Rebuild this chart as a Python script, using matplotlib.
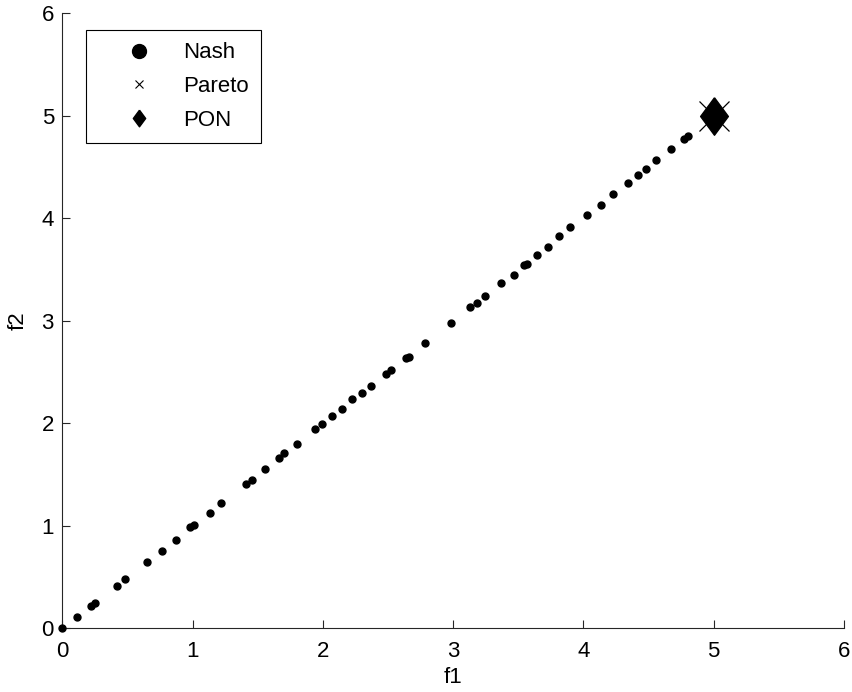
import numpy as np
import matplotlib
matplotlib.use("Agg")
import matplotlib.pyplot as plt
from matplotlib.lines import Line2D

# Nash points (f1, f2)
nash_f1 = [0.0, 0.113, 0.22, 0.25, 0.417, 0.483, 0.652, 0.765, 0.87, 0.982,
           1.013, 1.136, 1.222, 1.409, 1.46, 1.555, 1.66, 1.703, 1.798, 1.939,
           1.997, 2.07, 2.15, 2.221, 2.30, 2.367, 2.484, 2.525, 2.638, 2.658,
           2.786, 2.98, 3.131, 3.18, 3.244, 3.367, 3.464, 3.543, 3.564, 3.641,
           3.73, 3.814, 3.896, 4.025, 4.132, 4.224, 4.344, 4.42, 4.48, 4.554,
           4.669, 4.771, 4.804, 5.0]
nash_f2 = [0.0, 0.110, 0.218, 0.25, 0.412, 0.48, 0.649, 0.753, 0.864, 0.984,
           1.006, 1.127, 1.221, 1.406, 1.451, 1.552, 1.662, 1.708, 1.802, 1.942,
           1.997, 2.074, 2.138, 2.24, 2.30, 2.366, 2.483, 2.515, 2.639, 2.651,
           2.785, 2.98, 3.131, 3.17, 3.242, 3.365, 3.447, 3.547, 3.554, 3.642,
           3.722, 3.823, 3.914, 4.027, 4.131, 4.232, 4.343, 4.424, 4.48, 4.57,
           4.674, 4.777, 4.803, 5.0]
pareto_f1 = [5.0]
pareto_f2 = [5.0]
pon_f1 = [5.0]
pon_f2 = [5.0]

ticks = [0, 1, 2, 3, 4, 5, 6]

plt.rcParams['font.family'] = ['Liberation Sans', 'DejaVu Sans']
fs = 16

# taller-than-wide diamond like matlab's
diamond = [(0, 1), (0.74, 0), (0, -1), (-0.74, 0), (0, 1)]

fig = plt.figure(figsize=(8.52, 6.92), dpi=100)
ax = fig.add_axes([0.0731, 0.092, 0.9175, 0.889])

ax.plot(nash_f1, nash_f2, linestyle='none', marker='o', ms=5,
        color='black', clip_on=False, zorder=3)
ax.plot(pareto_f1, pareto_f2, linestyle='none', marker='x', ms=22, mew=0.9,
        color='black', clip_on=False, zorder=4)
ax.plot(pon_f1, pon_f2, linestyle='none', marker=diamond, ms=27,
        color='black', clip_on=False, zorder=5)

ax.set_xlim(0, 6)
ax.set_ylim(0, 6)
ax.set_xticks(ticks)
ax.set_yticks(ticks)
ax.spines['top'].set_visible(False)
ax.spines['right'].set_visible(False)
for s in ['left', 'bottom']:
    ax.spines[s].set_linewidth(0.8)
    ax.spines[s].set_color('#262626')
ax.tick_params(axis='x', direction='in', length=5.8, width=0.8,
               color='#262626', labelsize=fs, pad=9)
ax.tick_params(axis='y', direction='in', length=5.8, width=0.8,
               color='#262626', labelsize=fs, pad=6)
ax.set_xlabel('f1', fontsize=fs, labelpad=4)
ax.set_ylabel('f2', fontsize=fs, labelpad=9)

handles = [
    Line2D([], [], linestyle='none', marker='o', ms=10, color='black'),
    Line2D([], [], linestyle='none', marker='x', ms=6, mew=0.8, color='black'),
    Line2D([], [], linestyle='none', marker=diamond, ms=12, color='black'),
]
leg = ax.legend(handles, ['Nash', 'Pareto', 'PON'], loc='upper left',
                bbox_to_anchor=(0.030, 0.9724), borderaxespad=0,
                fontsize=fs, fancybox=False, framealpha=1, edgecolor='black',
                borderpad=0.55, handlelength=3.7, handletextpad=0.15,
                labelspacing=0.58)
leg.get_frame().set_linewidth(0.8)

fig.savefig('out.png', dpi=100)
